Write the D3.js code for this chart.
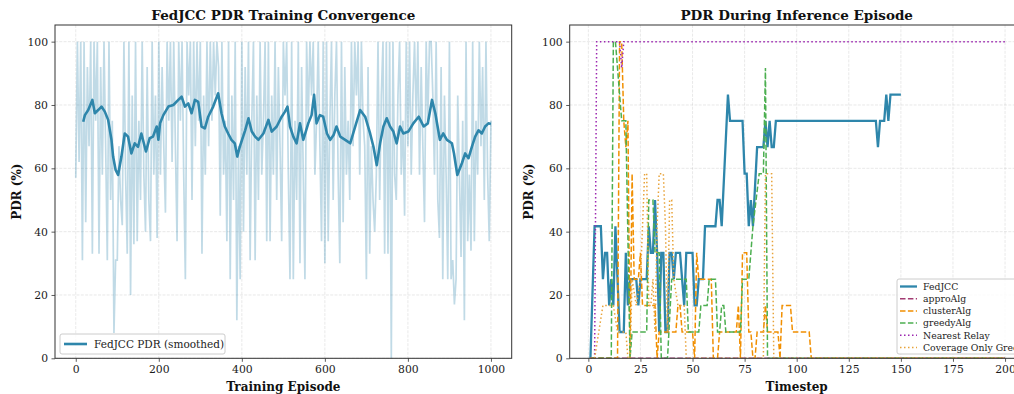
<!DOCTYPE html>
<html>
<head>
<meta charset="utf-8">
<script src="https://cdn.jsdelivr.net/npm/d3@7/dist/d3.min.js"></script>
<style>
  body { margin: 0; background: #fff; }
  svg { display: block; font-family: "DejaVu Serif", serif; }
</style>
</head>
<body>
<div id="chart"></div>
<script>
// ---- left panel: training convergence ----
var rawStep = 4; // raw PDR sampled every 4 episodes
var rawPdr = [
  57,100,62,100,31,100,43,92,67,100,33,100,75,100,33,92,58,100,67,31,100,50,75,8,31,
  31,67,50,42,100,58,33,100,20,83,36,100,37,75,50,100,58,40,92,50,37,100,58,83,38,
  100,58,92,67,46,100,75,100,62,100,67,37,100,75,100,58,25,100,83,100,50,100,67,100,75,
  100,33,83,58,100,67,100,75,100,83,100,92,45,100,58,75,37,100,25,83,50,100,12,67,25,
  100,40,92,58,100,31,75,100,31,83,50,100,58,75,100,37,100,37,83,58,100,50,92,67,37,
  100,83,100,58,25,100,25,75,50,100,30,92,58,25,100,75,100,83,100,58,75,100,67,37,100,
  30,100,37,75,100,50,83,100,58,30,100,43,92,58,75,50,100,67,100,83,100,58,100,75,67,
  25,92,33,67,50,40,58,100,50,83,100,33,100,33,100,0,100,58,50,83,100,58,75,45,100,
  67,100,58,83,100,75,100,58,92,67,43,100,75,100,100,83,58,100,50,38,92,25,83,58,25,
  100,25,31,17,25,83,58,32,75,12,100,37,58,34,100,37,75,58,100,67,92,50,100,58,37,75
];
var smoothEp = [18,22,30,40,46,54,62,70,78,86,90,96,102,110,118,126,134,142,150,158,
  169,178,186,195,199,203,211,223,235,247,255,263,271,279,287,295,303,311,319,331,
  343,351,359,367,375,383,389,395,408,416,424,432,440,452,464,472,484,496,504,510,
  516,524,532,540,548,560,568,574,580,588,596,605,613,621,628,637,649,661,673,685,
  697,709,717,725,733,741,749,757,765,773,781,789,801,813,826,838,848,858,866,877,
  885,894,906,911,919,930,938,946,954,962,970,978,986,994,1000];
var smoothPdr = [74.7,76.8,78.4,81.6,77.4,78.4,79.5,77.9,75.3,69,63.7,59.5,57.9,63.7,71,70,64.7,67.9,66.8,71,
  65.3,69.5,70,73.2,69,74.2,76.8,79.5,80,81.6,82.6,79.5,80.5,77.4,81.6,81,73.2,72.6,76.3,79.5,
  83.7,77.4,73.2,71,69,67.9,63.7,66.8,72,75.8,71.6,70,69,71,75.3,71.6,73.2,76.3,77.9,79.5,
  73.2,70,67.9,74.2,69,74.2,76.8,83.2,74.2,76.8,76.3,71,69,70.5,73.2,70,69,67.9,73.2,78.4,
  76.3,71,66.8,61,67.9,73.2,75.8,73.2,71.6,67.9,73.2,71,71.6,74.2,76.3,73.2,74.2,81.6,77.4,69,
  71,69,67.9,64.7,57.9,61.6,64.7,63.2,66.8,70,72,71,73.2,74.2,74];
var episodeTicks = [0, 200, 400, 600, 800, 1000];
var pdrTicks = [0, 20, 40, 60, 80, 100];

// ---- right panel: inference episode (timestep, PDR breakpoints) ----
var fedjccT   = [1,3,6,7,8,9,10,11,12,13,14,15,17,18,19,20,23,24,25,28,29,30,31,32,33,34,35,36,37,38,39,40,41,42,44,45,46,47,50,51,52,53,55,56,61,62,63,64,67,68,74,75,76,77,78,79,81,84,85,86,87,88,89,90,138,139,140,142,143,144,145,150];
var fedjccPdr = [0,41.7,41.7,25,33.3,33.3,16.7,25,16.7,41.7,25,8.3,8.3,33.3,16.7,25,25,16.7,25,25,41.7,33.3,33.3,50,33.3,8.3,33.3,33.3,8.3,8.3,33.3,33.3,25,33.3,33.3,25,16.7,33.3,33.3,16.7,16.7,25,25,41.7,41.7,50,50,41.7,83.3,75,75,58.3,58.3,41.7,50,41.7,66.7,66.7,75,66.7,75,66.7,66.7,75,75,66.7,75,75,83.3,75,83.3,83.3];
var approT   = [1,200];
var approPdr = [0,0];
var clusterT   = [1,14,15,16,17,18,19,20,21,22,24,25,26,32,33,34,42,43,44,45,50,51,52,53,59,60,62,63,71,72,73,74,76,77,78,79,80,81,84,85,86,91,92,93,97,98,106,107,200];
var clusterPdr = [0,0,100,100,75,66.7,75,0,58.3,25,25,33.3,16.7,16.7,0,8.3,8.3,16.7,16.7,8.3,8.3,0,33.3,25,25,0,0,8.3,8.3,16.7,0,33.3,33.3,8.3,8.3,0,0,8.3,8.3,16.7,8.3,8.3,0,16.7,16.7,8.3,8.3,0,0];
var greedyT   = [1,11,12,13,16,18,20,21,28,29,31,32,34,35,38,40,47,48,53,54,57,58,61,62,63,64,65,66,73,74,77,79,82,84,85,86,200];
var greedyPdr = [0,0,100,100,75,75,0,8.3,8.3,50,50,33.3,33.3,0,0,25,25,8.3,8.3,16.7,16.7,25,25,8.3,8.3,16.7,16.7,8.3,8.3,25,25,41.7,58.3,58.3,91.7,0,0];
var nearestT   = [1,3,4,15,16,17,200];
var nearestPdr = [0,0,100,100,91.7,100,100];
var coverT   = [1,3,5,7,12,14,18,19,20,21,23,25,27,28,29,30,31,32,33,34,36,37,38,39,40,41,43,46,47,84,85,88,89,200];
var coverPdr = [0,0,8.3,16.7,16.7,8.3,8.3,0,0,25,16.7,25,58.3,58.3,16.7,16.7,25,8.3,41.7,58.3,58.3,41.7,8.3,50,50,25,16.7,16.7,0,0,58.3,58.3,0,0];
var timestepTicks = [0, 25, 50, 75, 100, 125, 150, 175, 200];

var W = 1014, H = 394;
var svg = d3.select("#chart").append("svg").attr("width", W).attr("height", H);

var plotTop = 25, plotBottom = 358.3;
var y = d3.scaleLinear().domain([0, 105.26]).range([plotBottom, plotTop]);
var xL = d3.scaleLinear().domain([-50, 1050]).range([55, 511.7]);
var xR = d3.scaleLinear().domain([-8.95, 208.95]).range([569.7, 1023.7]);

function panel(x, xTicks, title, xLabel, yLabelX) {
  var g = svg.append("g");
  var r = x.range();
  // grid
  var grid = g.append("g");
  grid.selectAll("line.gx").data(xTicks).enter().append("line").attr("class", "gx")
    .attr("x1", function (d) { return x(d); }).attr("x2", function (d) { return x(d); })
    .attr("y1", plotTop).attr("y2", plotBottom);
  grid.selectAll("line.gy").data(pdrTicks).enter().append("line").attr("class", "gy")
    .attr("x1", r[0]).attr("x2", r[1])
    .attr("y1", function (d) { return y(d); }).attr("y2", function (d) { return y(d); });
  grid.selectAll("line").attr("stroke", "#b0b0b0").attr("stroke-opacity", 0.35)
    .attr("stroke-width", 0.8).attr("stroke-dasharray", "3,1.3");

  var xa = g.append("g").attr("transform", "translate(0," + plotBottom + ")")
    .call(d3.axisBottom(x).tickValues(xTicks).tickSize(3.5).tickPadding(3.5).tickFormat(d3.format("d")));
  var ya = g.append("g").attr("transform", "translate(" + r[0] + ",0)")
    .call(d3.axisLeft(y).tickValues(pdrTicks).tickSize(3.5).tickPadding(3.5));
  [xa, ya].forEach(function (a) {
    a.select(".domain").remove();
    a.selectAll("line").attr("stroke", "#333").attr("stroke-width", 0.8);
    a.selectAll("text").attr("fill", "#1a1a1a").style("font-size", "10.8px").style("font-family", "DejaVu Serif");
  });

  svg.append("text").attr("x", (r[0] + r[1]) / 2).attr("y", 19.5).attr("text-anchor", "middle")
    .style("font-size", "13.5px").style("font-weight", "bold").attr("fill", "#111").text(title);
  svg.append("text").attr("x", (r[0] + r[1]) / 2).attr("y", 391).attr("text-anchor", "middle")
    .style("font-size", "12px").style("font-weight", "bold").attr("fill", "#111").text(xLabel);
  svg.append("text").attr("transform", "translate(" + yLabelX + "," + ((plotTop + plotBottom) / 2) + ") rotate(-90)")
    .attr("text-anchor", "middle").style("font-size", "12px").style("font-weight", "bold")
    .attr("fill", "#111").text("PDR (%)");
  return g;
}

var gL = panel(xL, episodeTicks, "FedJCC PDR Training Convergence", "Training Episode", 21);
var gR = panel(xR, timestepTicks, "PDR During Inference Episode", "Timestep", 533);

// left lines
var rawPts = rawPdr.map(function (v, i) { return [i * rawStep, v]; });
var smoothPts = d3.zip(smoothEp, smoothPdr);
var lineL = d3.line().x(function (d) { return xL(d[0]); }).y(function (d) { return y(d[1]); });
gL.append("path").attr("d", lineL(rawPts)).attr("fill", "none")
  .attr("stroke", "#2E86AB").attr("stroke-opacity", 0.3).attr("stroke-width", 1.7);
gL.append("path").attr("d", lineL(smoothPts)).attr("fill", "none")
  .attr("stroke", "#2E86AB").attr("stroke-width", 2.6).attr("stroke-linejoin", "round");

// right lines
svg.append("clipPath").attr("id", "clipR").append("rect")
  .attr("x", 569.7).attr("y", plotTop).attr("width", 454).attr("height", plotBottom - plotTop);
var series = [
  { name: "FedJCC", t: fedjccT, v: fedjccPdr, color: "#2E86AB", dash: null, w: 2.3 },
  { name: "approAlg", t: approT, v: approPdr, color: "#A23B72", dash: "5.5,2.4", w: 1.5 },
  { name: "clusterAlg", t: clusterT, v: clusterPdr, color: "#F18F01", dash: "5.5,2.4", w: 1.5 },
  { name: "greedyAlg", t: greedyT, v: greedyPdr, color: "#4CAF50", dash: "5.5,2.4", w: 1.5 },
  { name: "Nearest Relay", t: nearestT, v: nearestPdr, color: "#9C27B0", dash: "1.5,2.5", w: 1.5 },
  { name: "Coverage Only Greedy", t: coverT, v: coverPdr, color: "#E8A33A", dash: "1.5,2.5", w: 1.5 }
];
var lineR = d3.line().x(function (d) { return xR(d[0]); }).y(function (d) { return y(d[1]); });
var linesR = gR.append("g").attr("clip-path", "url(#clipR)");
series.forEach(function (s) {
  linesR.append("path").attr("d", lineR(d3.zip(s.t, s.v))).attr("fill", "none")
    .attr("stroke", s.color).attr("stroke-width", s.w)
    .attr("stroke-dasharray", s.dash);
});

// spines
svg.append("rect").attr("x", 55).attr("y", plotTop).attr("width", 511.7 - 55).attr("height", plotBottom - plotTop)
  .attr("fill", "none").attr("stroke", "#333").attr("stroke-width", 1);
svg.append("rect").attr("x", 569.7).attr("y", plotTop).attr("width", 1023.7 - 569.7).attr("height", plotBottom - plotTop)
  .attr("fill", "none").attr("stroke", "#333").attr("stroke-width", 1);

// left legend
var lgL = svg.append("g").attr("transform", "translate(60,334)");
lgL.append("rect").attr("width", 165).attr("height", 20).attr("rx", 2)
  .attr("fill", "#fff").attr("fill-opacity", 0.8).attr("stroke", "#ccc");
lgL.append("line").attr("x1", 4).attr("x2", 27).attr("y1", 10).attr("y2", 10)
  .attr("stroke", "#2E86AB").attr("stroke-width", 2.6);
lgL.append("text").attr("x", 34).attr("y", 13.8).style("font-size", "10.5px")
  .attr("fill", "#222").text("FedJCC PDR (smoothed)");

// right legend
var lgR = svg.append("g").attr("transform", "translate(897,279)");
lgR.append("rect").attr("width", 122).attr("height", 75).attr("rx", 2)
  .attr("fill", "#fff").attr("fill-opacity", 0.8).attr("stroke", "#ccc");
series.forEach(function (s, i) {
  var yy = 7.5 + i * 12.2;
  lgR.append("line").attr("x1", 3).attr("x2", 20).attr("y1", yy).attr("y2", yy)
    .attr("stroke", s.color).attr("stroke-width", s.w).attr("stroke-dasharray", s.dash);
  lgR.append("text").attr("x", 26).attr("y", yy + 3.2).style("font-size", "9.3px")
    .attr("fill", "#222").text(s.name);
});
</script>
</body>
</html>
